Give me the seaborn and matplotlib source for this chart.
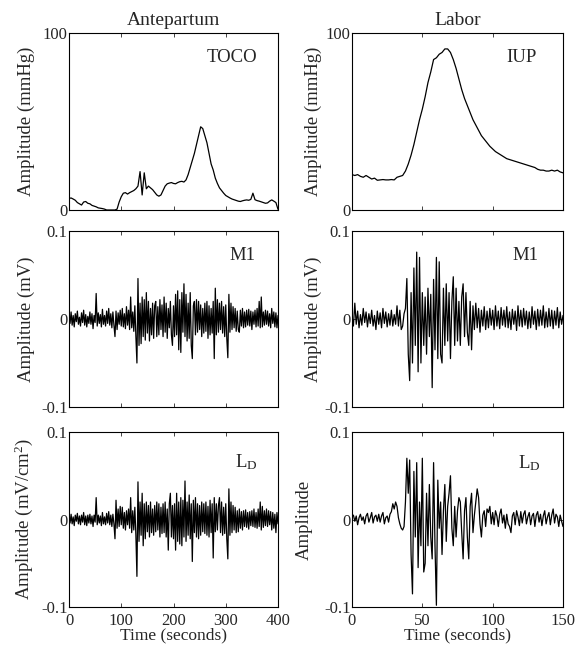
import numpy as np
import matplotlib
matplotlib.use("Agg")
import matplotlib.pyplot as plt
import seaborn as sns

# ---- data ----
# Antepartum TOCO, mmHg, one sample every 4 s from 0 to 400 s
toco_mmhg = [6.5, 6.8, 6.2, 5.5, 4.2, 3.5, 2.8, 4.5, 4.8, 3.8,
             3.5, 2.6, 2.2, 1.8, 1.2, 1.0, 0.8, 0.5, 0, 0,
             0, 0, 0, 0.5, 4.5, 7.5, 9.5, 9.8, 9, 9.8,
             10.4, 11, 12, 13.5, 21.7, 8.5, 21, 12, 13.5, 12.5,
             11.5, 10, 8.5, 7.8, 8.5, 11, 13.5, 14.8, 15.2, 15.5,
             15, 14.8, 15.5, 16, 16.2, 15.8, 17, 20, 24, 28,
             32, 37, 42, 47, 46, 42, 38, 32, 26, 22.6,
             18, 15, 12.5, 11, 9.5, 8.2, 7.5, 6.8, 6.2, 5.8,
             5.4, 5.0, 4.8, 5.2, 5.5, 5.7, 5.5, 6.0, 9.5, 5.8,
             5.3, 5.0, 4.6, 4.2, 3.8, 4.0, 5.0, 5.7, 5.0, 4.2,
             0.4]

# Labor IUP, mmHg, one sample every 2 s from 0 to 150 s
iup_mmhg = [20, 19.5, 20, 19, 18.5, 19.5, 18.5, 17.5, 18, 16.8,
            17, 17.2, 17, 17, 17.2, 17, 18.5, 19, 19.5, 22,
            26, 31, 37, 44, 51, 57, 64, 72, 78, 85,
            86, 88, 89, 91, 91, 89, 85, 80, 74, 68,
            63, 59, 55, 51, 48, 45, 42, 40, 38, 36,
            34.5, 33, 32, 31, 30, 29, 28.5, 28, 27.5, 27,
            26.5, 26, 25.5, 25, 24.5, 24, 23, 22.5, 22.5, 22,
            22, 22.5, 22, 22.5, 21.5, 21]

# Antepartum EMG, in uV (1e-3 mV), one sample every 2 s from 0 to 400 s
m1_ante_uv = [3, -5, 8, -7, 4, -9, 6, -3, 9, -6,
              2, -8, 7, -4, 10, -7, 5, -9, 3, -5,
              8, -6, 6, -11, 4, -4, 29, -8, 7, -5,
              5, -9, 11, -6, 4, -8, 9, -5, 12, -7,
              6, -10, 8, -7, -20, 9, -12, 7, -6, 10,
              -8, 12, -9, 6, -11, 14, -7, 10, -12, 25,
              -10, 8, -14, 15, -20, -50, 46, -30, 18, -28,
              25, -20, 22, -24, 30, -16, 20, -25, 12, -18,
              18, -22, 15, 20, -20, 14, -18, 22, -12, 16,
              -20, 25, -15, 18, -22, 12, -10, 20, -18, -30,
              15, -20, 28, -18, 32, -35, 22, -38, 30, -15,
              40, -20, 28, -25, 18, -22, 30, -30, -45, 15,
              20, -18, 22, -15, 20, -12, 16, -20, 12, -16,
              18, -14, 20, -22, 15, -18, 12, -16, 20, -45,
              35, -18, 22, -15, 18, -12, 20, -16, 14, -20,
              16, -22, -44, 28, -15, 18, -12, 14, -10, 12,
              -14, 9, -12, -15, 10, -8, 12, -10, 8, -9,
              10, -7, 11, -8, 9, -12, 8, -6, 10, -9,
              12, -8, 20, -10, 25, -9, 8, -7, 10, -6,
              9, -8, 6, -10, 12, -5, 8, -9, 7, -10, 4]

ld_ante_uv = [2, -4, 6, -5, 3, -7, 5, -2, 7, -5,
              4, -6, 5, -3, 8, -6, 4, -7, 5, -4,
              6, -5, 4, -8, 5, -3, 25, -6, 5, -4,
              4, -7, 8, -5, 3, -6, 7, -4, 9, -6,
              5, -8, 6, -5, -22, 22, -10, 12, -8, 15,
              -6, 14, -10, 8, -12, 10, -6, 12, -10, 25,
              -15, 10, -12, 14, -18, -65, 43, -25, 20, -18,
              30, -30, 18, -22, 20, -14, 16, -20, 20, -15,
              12, -18, 16, -14, 20, -12, 18, -20, 14, -16,
              18, -15, 20, -20, 12, -35, 18, 30, -20, 16,
              -22, 18, -35, 30, -25, 20, -28, 25, -30, 22,
              -20, 44, -25, 20, -18, 28, -22, 18, -48, 22,
              -15, 25, -20, 18, -22, 16, -18, 20, -14, 18,
              -16, 20, -18, 15, -20, 22, -15, 18, -44, 25,
              -14, 18, -12, 16, 25, -15, 20, -18, 14, -16,
              18, -22, -45, 35, -18, 20, -15, 16, -12, 14,
              -15, 10, -14, 12, -10, 9, -12, 10, -8, 11,
              -9, 8, -11, 9, -7, 10, -8, 12, -9, 8,
              -10, 12, -8, 20, -12, 15, -9, 10, -7, 12,
              -8, 10, -6, 9, -12, 8, -10, 6, -15, 8, -5]

# Labor EMG, in uV, one sample per second from 0 to 150 s
m1_labor_uv = [2, -8, 18, -6, 9, -10, 5, -7, 12, -4,
               8, -9, 6, -5, 10, -8, 4, -12, 9, -6,
               7, -10, 12, -5, 8, -9, 6, -7, 10, -8,
               5, -6, 15, -8, 10, -12, -8, 6, 12, 46,
               -40, -70, 30, -50, 58, -30, 76, -60, 70, -50,
               30, -30, 25, -40, 35, -20, 28, -78, 45, -35,
               70, -45, 65, -40, -50, 35, -30, 40, -25, 30,
               -45, 20, 48, -30, 35, -25, 20, -30, 25, 40,
               -20, 30, -15, -30, 20, -35, 15, -12, 18, -10,
               12, -15, 10, -8, 14, -12, 9, -10, 12, -7,
               10, -12, 15, -8, 9, -11, 13, -7, 10, -9,
               14, -10, 8, -12, 11, -6, 9, -13, 15, -8,
               10, -9, 12, -7, 9, -11, 8, -10, 14, -6,
               9, -12, 11, -8, 10, -7, 15, -10, 8, -9,
               12, -8, 10, -11, 9, -7, 13, -10, 8, -6, 4]

ld_labor_uv = [3, 5, -2, 4, -6, 2, 6, -1, 3, -5,
               4, 7, -3, 2, 8, -4, 3, 5, -2, 6,
               -3, 4, 8, -5, 2, 4, -3, 6, 9, 18,
               12, 20, 15, 2, -5, -10, -12, -8, 20, 70,
               30, 68, -40, -85, 55, -20, 65, -55, 20, -30,
               70, -60, -50, 30, -30, 40, -20, -45, 65, -30,
               -98, 45, -10, 20, -40, 10, 40, -25, 15, 30,
               50, -10, -30, 15, -20, 10, 25, 20, -15, -45,
               10, 25, -20, -45, 15, 30, -15, 5, 20, 35,
               25, -5, -20, 5, 10, -8, 12, 8, 15, -5,
               8, -6, 10, 4, -8, 6, 12, -4, 5, -10,
               6, -5, -8, -15, 4, 8, -6, 10, 3, -7,
               9, -4, 6, 10, -5, 3, 8, -6, 4, 7,
               -8, 5, 9, -3, 6, -7, 4, 10, -5, 3,
               8, -6, 5, 12, -4, 6, 3, -8, 5, -2, -8]

col_titles = ["Antepartum", "Labor"]
x_max = [400, 150]
x_ticks = [[0, 100, 200, 300, 400], [0, 50, 100, 150]]
panel_names = [["TOCO", "IUP"], ["M1", "M1"], [r"L$_\mathrm{D}$", r"L$_\mathrm{D}$"]]
y_labels = [["Amplitude (mmHg)", "Amplitude (mmHg)"],
            ["Amplitude (mV)", "Amplitude (mV)"],
            ["Amplitude (mV/cm$^2$)", "Amplitude"]]

# ---- style ----
sns.set_style("ticks")
plt.rcParams["font.family"] = ["Liberation Serif", "DejaVu Serif"]
plt.rcParams["mathtext.fontset"] = "custom"
plt.rcParams["mathtext.rm"] = "Liberation Serif"
plt.rcParams["mathtext.it"] = "Liberation Serif:italic"
plt.rcParams["axes.unicode_minus"] = False

series = [[toco_mmhg, iup_mmhg],
          [np.array(m1_ante_uv) / 1000.0, np.array(m1_labor_uv) / 1000.0],
          [np.array(ld_ante_uv) / 1000.0, np.array(ld_labor_uv) / 1000.0]]

W, H = 584, 651
fig = plt.figure(figsize=(W / 100, H / 100), dpi=100)

col_x = [(69, 278), (352, 563)]
row_y = [(33, 210), (231, 407), (432, 607)]
name_pos = [[(0.78, 0.86), (0.805, 0.86)],
            [(0.83, 0.86), (0.82, 0.86)],
            [(0.85, 0.83), (0.84, 0.82)]]
ylab_x = [[-0.165, -0.14], [-0.165, -0.14], [-0.165, -0.185]]

for r in range(3):
    for c in range(2):
        x0, x1 = col_x[c]
        y0, y1 = row_y[r]
        ax = fig.add_axes([x0 / W, 1 - y1 / H, (x1 - x0) / W, (y1 - y0) / H])
        vals = series[r][c]
        t = np.linspace(0, x_max[c], len(vals))
        sns.lineplot(x=t, y=vals, ax=ax, color="black", linewidth=0.9,
                     estimator=None, sort=False)
        ax.set_xlim(0, x_max[c])
        if r == 0:
            ax.set_ylim(0, 100)
            ax.set_yticks([0, 100])
            ax.set_yticklabels(["0", "100"])
            ax.set_title(col_titles[c], fontsize=14, pad=6)
        else:
            ax.set_ylim(-0.1, 0.1)
            ax.set_yticks([-0.1, 0, 0.1])
            ax.set_yticklabels(["-0.1", "0", "0.1"])
        ax.set_xticks(x_ticks[c])
        if r == 2:
            ax.set_xticklabels([str(v) for v in x_ticks[c]])
            ax.set_xlabel("Time (seconds)", fontsize=12.5, labelpad=-1)
        else:
            ax.set_xticklabels([])
            ax.set_xlabel("")
        ax.set_ylabel(y_labels[r][c], fontsize=13.5)
        ax.yaxis.set_label_coords(ylab_x[r][c], 0.5)
        ax.tick_params(direction="in", length=3, width=0.6, top=True, right=True,
                       labelsize=12)
        ax.tick_params(axis="y", pad=1)
        ax.tick_params(axis="x", pad=4)
        for s in ax.spines.values():
            s.set_linewidth(0.8)
            s.set_color("black")
        ax.text(name_pos[r][c][0], name_pos[r][c][1], panel_names[r][c],
                transform=ax.transAxes, ha="center", va="center", fontsize=13.5)

fig.savefig("out.png", dpi=100, facecolor="white")
